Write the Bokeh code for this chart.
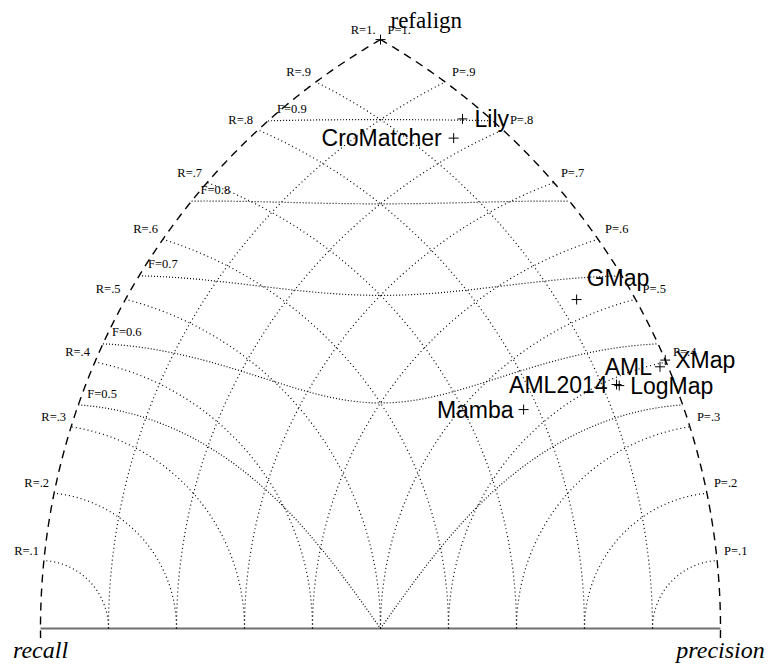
import numpy as np
from bokeh.plotting import figure
from bokeh.models import Range1d
from bokeh.embed import file_html
from bokeh.resources import INLINE
from bokeh.core.properties import value

# ---------------- data ----------------
systems = ["Lily", "CroMatcher", "GMap", "XMap", "AML", "AML2014", "LogMap", "Mamba"]
precision = [0.840, 0.821, 0.528, 0.403, 0.395, 0.390, 0.387, 0.433]
recall = [0.973, 0.943, 0.925, 1.000, 0.989, 0.920, 0.923, 0.780]

ref_name = "refalign"
ref_precision = [1.0]
ref_recall = [1.0]

grid_levels = [0.1, 0.2, 0.3, 0.4, 0.5, 0.6, 0.7, 0.8, 0.9]
r_labels = ["R=.1", "R=.2", "R=.3", "R=.4", "R=.5", "R=.6", "R=.7", "R=.8", "R=.9", "R=1."]
p_labels = ["P=.1", "P=.2", "P=.3", "P=.4", "P=.5", "P=.6", "P=.7", "P=.8", "P=.9", "P=1."]
label_levels = [0.1, 0.2, 0.3, 0.4, 0.5, 0.6, 0.7, 0.8, 0.9, 1.0]
f_levels = [0.5, 0.6, 0.7, 0.8, 0.9]
f_labels = ["F=0.5", "F=0.6", "F=0.7", "F=0.8", "F=0.9"]

# label placement of system names (style): side and pixel offsets
sys_align = ["left", "right", "left", "left", "right", "right", "left", "right"]
sys_dx = [12, -12, 10, 10, -8, -9, 11, -10]
sys_dy = [0, 0, 22, 0, 0, 0, 0, 0]

# ---------------- geometry ----------------
SCALE = 680.0  # pixels per unit


def to_xy(prec, rec):
    prec = np.asarray(prec, float)
    rec = np.asarray(rec, float)
    x = (rec ** 2 - prec ** 2 + 1.0) / 2.0
    y = np.sqrt(np.clip(rec ** 2 - x ** 2, 0, None))
    return x, y


W, H = 772, 665
x0_px, y0_px = 40.0, 628.0  # recall corner in figure pixels (from left / top)
p = figure(width=W, height=H,
           x_range=Range1d(-x0_px / SCALE, (W - x0_px) / SCALE),
           y_range=Range1d(-(H - y0_px) / SCALE, y0_px / SCALE),
           output_backend="svg", toolbar_location=None,
           x_axis_type=None, y_axis_type=None,
           min_border=0, min_border_left=0, min_border_right=0,
           min_border_top=0, min_border_bottom=0)
p.grid.visible = False
p.outline_line_color = None
p.background_fill_color = "white"
p.border_fill_color = "white"

px = 1.0 / SCALE

# baseline
p.line(x=[0, 1], y=[0, 0], line_color="#707070", line_width=2)

# boundary arcs (P=1 on left, R=1 on right)
tl = np.radians(np.linspace(120, 180.8, 400))
p.line(x=1 + np.cos(tl), y=np.sin(tl), line_color="black", line_width=1.4, line_dash="8 6")
tr = np.radians(np.linspace(-0.8, 60, 400))
p.line(x=np.cos(tr), y=np.sin(tr), line_color="black", line_width=1.4, line_dash="8 6")

# recall / precision iso-curves
for lv in grid_levels:
    other = np.linspace(1 - lv, 1.0, 600)
    xr, yr = to_xy(other, np.full_like(other, lv))
    p.line(x=xr, y=yr, line_color="black", line_width=1.2, line_dash="1 3")
    xp, yp = to_xy(np.full_like(other, lv), other)
    p.line(x=xp, y=yp, line_color="black", line_width=1.2, line_dash="1 3")

# F-measure curves
f_start_x, f_start_y = [], []
for f in f_levels:
    rmin = f / (2 - f)
    rr = np.linspace(rmin, 1.0, 3000)
    pp = f * rr / (2 * rr - f)
    xf, yf = to_xy(pp, rr)
    p.line(x=xf, y=yf, line_color="black", line_width=1.2, line_dash="1 2")
    f_start_x.append(xf[0])
    f_start_y.append(yf[0])

serif = value("Liberation Serif")
sans = value("Liberation Sans")

# R labels (on P=1 arc), P labels (on R=1 arc)
rx, ry = to_xy(np.ones(len(label_levels)), label_levels)
p.text(x=rx - 5 * px, y=ry + 10 * px, text=r_labels, text_font=serif,
       text_font_size="12.5px", text_align="right", text_baseline="middle", text_color="black")
qx, qy = to_xy(label_levels, np.ones(len(label_levels)))
p.text(x=qx + 7 * px, y=qy + 10 * px, text=p_labels, text_font=serif,
       text_font_size="12.5px", text_align="left", text_baseline="middle", text_color="black")
p.text(x=np.array(f_start_x) + 9 * px, y=np.array(f_start_y) + 11.5 * px, text=f_labels,
       text_font=serif, text_font_size="12.5px", text_align="left", text_baseline="middle",
       text_color="black")

# corner labels
p.text(x=[0], y=[-21 * px], text=["recall"], text_font=serif, text_font_style="italic",
       text_font_size="24px", text_align="center", text_baseline="middle", text_color="black")
p.text(x=[1], y=[-21 * px], text=["precision"], text_font=serif, text_font_style="italic",
       text_font_size="24px", text_align="center", text_baseline="middle", text_color="black")

# reference point
rfx, rfy = to_xy(ref_precision, ref_recall)
p.scatter(x=rfx, y=rfy, marker="cross", size=10, line_color="black", line_width=1)
p.text(x=rfx + 10 * px, y=rfy + 19 * px, text=[ref_name], text_font=serif,
       text_font_size="23px", text_align="left", text_baseline="middle", text_color="black")

# systems
sx, sy = to_xy(precision, recall)
p.scatter(x=sx, y=sy, marker="cross", size=10, line_color="black", line_width=1)
for i, name in enumerate(systems):
    p.text(x=[sx[i] + sys_dx[i] * px], y=[sy[i] + sys_dy[i] * px], text=[name],
           text_font=sans, text_font_size="23px", text_align=sys_align[i],
           text_baseline="middle", text_color="black")

open("out.html", "w").write(file_html(p, INLINE))
